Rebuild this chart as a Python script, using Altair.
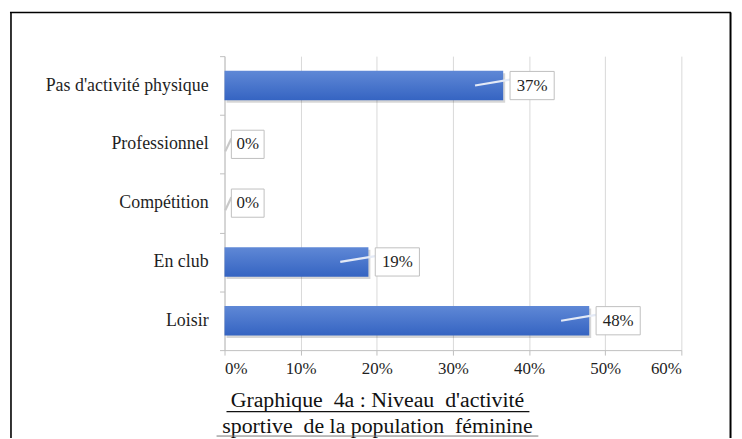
import altair as alt
import pandas as pd

categories = ["Pas d'activité physique", "Professionnel", "Compétition", "En club", "Loisir"]
values = [0.366, 0.0, 0.0, 0.189, 0.479]
labels = ["37%", "0%", "0%", "19%", "48%"]
x_ticks = [0, 0.1, 0.2, 0.3, 0.4, 0.5, 0.6]
title_lines = ["Graphique\u00a0 4a : Niveau\u00a0 d'activité",
               "sportive\u00a0 de la population\u00a0 féminine"]

df = pd.DataFrame({"cat": categories, "val": values, "lab": labels,
                   "i": list(range(len(categories)))})

SERIF = "Liberation Serif"
TXT = "#1f1f1f"
W, H = 460, 296
xs = alt.Scale(domain=[0, 0.6], nice=False, zero=False)
ys = alt.Scale(domain=[0, 5], reverse=True, nice=False, zero=False)

base = alt.Chart(df).transform_calculate(
    zero="0",
    top="datum.i + 0.25",
    bot="datum.i + 0.75",
    mid="datum.i + 0.5",
    btop="datum.i + 0.26",
    bbot="datum.i + 0.74",
    bx0="datum.val + 0.009",
    bx1="datum.val + 0.009 + (length(datum.lab) > 2 ? 0.058 : 0.043)",
    bxc="(datum.bx0 + datum.bx1) / 2",
    tipx="datum.val > 0 ? datum.val - 0.037 : 0.001",
    tipy="datum.val > 0 ? datum.i + 0.5 : datum.i + 0.62",
    jy="datum.i + 0.4",
    pc="datum.val > 0 ? '#e4eaf6' : '#c8c8c8'",
)

x_axis = alt.Axis(values=x_ticks, format=".0%", grid=True, gridColor="#d9d9d9",
                  domainColor="#bfbfbf", tickColor="#bfbfbf", tickSize=5,
                  labelFont=SERIF, labelFontSize=17, labelColor=TXT, labelPadding=6,
                  title=None)
y_axis = alt.Axis(values=[0, 1, 2, 3, 4, 5], labels=False, grid=False,
                  domainColor="#bfbfbf", tickColor="#bfbfbf", tickSize=5, title=None)


def X(f):
    return alt.X(f, scale=xs, axis=x_axis)


def Y(f):
    return alt.Y(f, scale=ys, axis=y_axis)


grad = alt.Gradient(gradient="linear",
                    stops=[alt.GradientStop(color="#5f88d6", offset=0),
                           alt.GradientStop(color="#3564c2", offset=1)],
                    x1=0, x2=0, y1=0, y2=1)

pos = base.transform_filter("datum.val > 0")

shadow = pos.mark_bar(color="#000000", opacity=0.16, xOffset=2, x2Offset=2,
                      yOffset=2.5, y2Offset=2.5).encode(
    x=X("val:Q"), x2="zero:Q", y=Y("top:Q"), y2="bot:Q")

bars = pos.mark_bar(color=grad).encode(
    x=X("val:Q"), x2="zero:Q", y=Y("top:Q"), y2="bot:Q")

pointers = base.mark_rule(strokeWidth=2.2).encode(
    x=X("tipx:Q"), x2="bx0:Q", y=Y("tipy:Q"), y2="jy:Q",
    color=alt.Color("pc:N", scale=None))

boxes = base.mark_rect(fill="white", stroke="#bfbfbf", strokeWidth=1).encode(
    x=X("bx0:Q"), x2="bx1:Q", y=Y("btop:Q"), y2="bbot:Q")

vlabels = base.mark_text(font=SERIF, fontSize=17, color=TXT, baseline="middle").encode(
    x=X("bxc:Q"), y=Y("mid:Q"), text="lab:N")

catlabels = base.mark_text(font=SERIF, fontSize=18, color=TXT, align="right",
                           baseline="middle").encode(
    x=alt.value(-16), y=Y("mid:Q"), text="cat:N")

one = pd.DataFrame({"k": [0]})


def txt(s, x, y):
    return alt.Chart(one).mark_text(text=s, font=SERIF, fontSize=22, color="#111111",
                                    align="center", baseline="alphabetic").encode(
        x=alt.value(x), y=alt.value(y))


def rule(x, x2, y, y2, color="#000000", w=1.5):
    return alt.Chart(one).mark_rule(color=color, strokeWidth=w).encode(
        x=alt.value(x), x2=alt.value(x2), y=alt.value(y), y2=alt.value(y2))


t1 = txt(title_lines[0], 154, 353)
t2 = txt(title_lines[1], 154, 379)
u1 = rule(2, 307, 358, 358, "#111111", 1.3)
u2 = rule(-8, 316, 382.5, 382.5, "#777777", 1.0)

frame_top = rule(-216, 510, -44, -44, "#000000", 1.6)
frame_left = rule(-215, -215, -44, 400, "#000000", 1.6)
frame_right = rule(509.5, 509.5, -44, 400, "#000000", 2)

chart = alt.layer(
    shadow, bars, pointers, boxes, vlabels, catlabels,
    t1, t2, u1, u2, frame_top, frame_left, frame_right
).properties(
    width=W, height=H,
    padding={"left": 218, "top": 47, "right": 53, "bottom": 87},
    autosize=alt.AutoSizeParams(type="none"),
).configure_view(stroke=None)

chart.save("out.html", embed_options={"renderer": "svg", "actions": False})
